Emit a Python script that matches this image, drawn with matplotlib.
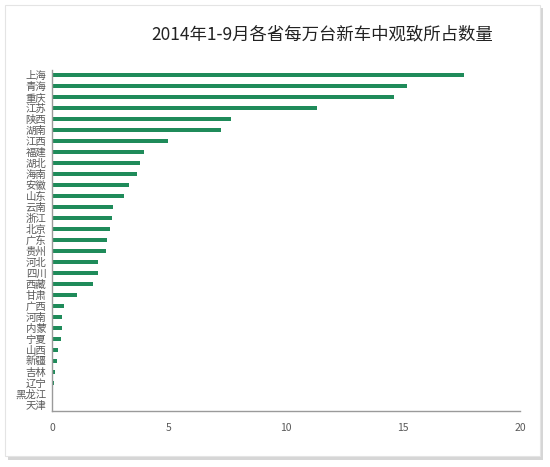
import matplotlib.pyplot as plt
from matplotlib.patches import Rectangle

plt.rcParams['font.family'] = ['Noto Sans CJK SC', 'DejaVu Sans']

provinces = ['上海', '青海', '重庆', '江苏', '陕西', '湖南', '江西', '福建', '湖北', '海南',
             '安徽', '山东', '云南', '浙江', '北京', '广东', '贵州', '河北', '四川', '西藏',
             '甘肃', '广西', '河南', '内蒙', '宁夏', '山西', '新疆', '吉林', '辽宁', '黑龙江', '天津']
values = [17.59, 15.15, 14.6, 11.32, 7.65, 7.22, 4.95, 3.95, 3.75, 3.64,
          3.27, 3.07, 2.61, 2.57, 2.48, 2.37, 2.30, 1.98, 1.98, 1.75,
          1.07, 0.51, 0.44, 0.44, 0.37, 0.26, 0.21, 0.13, 0.09, 0.0, 0.0]
xticks = [0, 5, 10, 15, 20]

W, H = 550, 467
fig = plt.figure(figsize=(W / 100, H / 100), dpi=100)
fig.patch.set_facecolor('white')

# card with shadow
fig.patches.append(Rectangle((8 / W, 1 - 460 / H), 535 / W, 452 / H, transform=fig.transFigure,
                             facecolor='#d6d6d6', edgecolor='none', zorder=-2))
fig.patches.append(Rectangle((5 / W, 1 - 456 / H), 535 / W, 451 / H, transform=fig.transFigure,
                             facecolor='white', edgecolor='#e4e4e4', linewidth=0.8, zorder=-1))

ax = fig.add_axes([52 / W, 1 - 410.5 / H, 468 / W, 341 / H])
ax.set_facecolor('none')

pos = range(len(provinces))
ax.barh(pos, values, height=0.36, color='#1f8b5a')
ax.set_ylim(len(provinces) - 0.5, -0.5)
ax.set_xlim(0, 20)
ax.set_yticks(list(pos))
ax.set_yticklabels(provinces, fontsize=7.5, color='#595959')
ax.set_xticks(xticks)
ax.set_xticklabels([str(t) for t in xticks], fontsize=7.5, color='#595959')
ax.tick_params(axis='both', length=0)
ax.tick_params(axis='x', pad=9)
ax.tick_params(axis='y', pad=4)

for s in ['top', 'right']:
    ax.spines[s].set_visible(False)
for s in ['left', 'bottom']:
    ax.spines[s].set_color('#9a9a9a')
    ax.spines[s].set_linewidth(1)

fig.text(322 / W, 1 - 34 / H, '2014年1-9月各省每万台新车中观致所占数量', ha='center', va='center',
         fontsize=12.5, color='#222222')

fig.savefig('out.png', dpi=100)
